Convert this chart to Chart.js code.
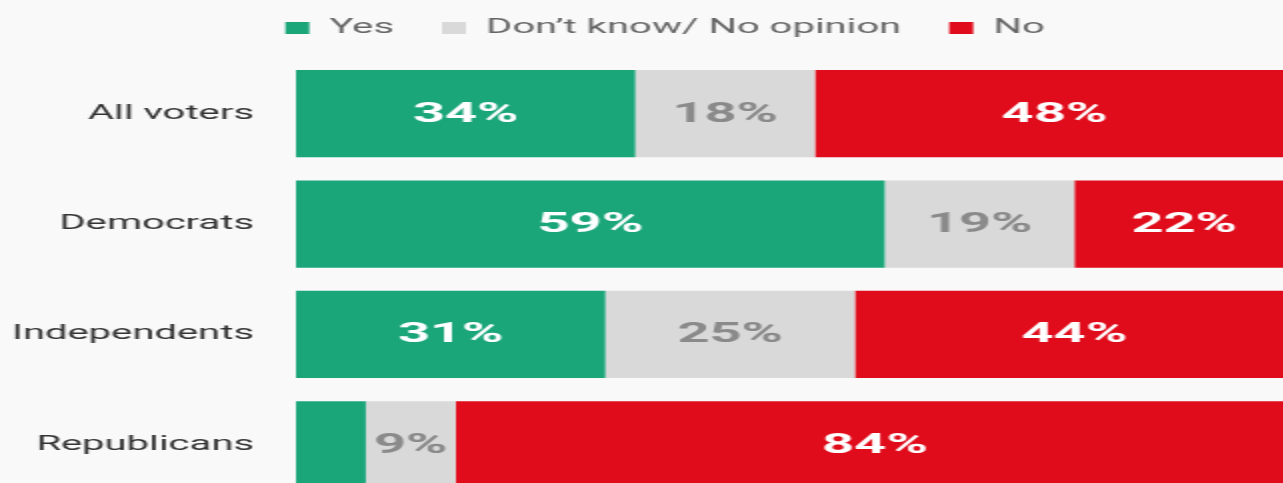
<!DOCTYPE html>
<html>
<head>
<meta charset="utf-8">
<script src="https://cdn.jsdelivr.net/npm/chart.js@4"></script>
<style>
  html, body { margin: 0; padding: 0; background: #f9f9f9; overflow: hidden; }
  /* the reference is stretched twice as wide, so draw narrow and scale */
  #wrap { width: 665px; height: 500px; transform: scaleX(2); transform-origin: 0 0; }
</style>
</head>
<body>
<div id="wrap"><canvas id="chart" width="665" height="500"></canvas></div>
<script>
const groups = ['All voters', 'Democrats', 'Independents', 'Republicans'];
const yesValues = [34, 59, 31, 7];
const dontKnowValues = [18, 19, 25, 9];
const noValues = [48, 22, 44, 84];

// percent labels drawn in the middle of each segment
const barLabels = {
  id: 'barLabels',
  beforeUpdate(chart) {
    // a bit more room under the legend
    const lg = chart.legend;
    if (lg && !lg._patched) {
      const fit = lg.fit;
      lg.fit = function () { fit.call(this); this.height += 10.5; };
      lg._patched = true;
    }
  },
  afterLayout(chart) {
    // legend row is centred a little right of the canvas centre
    chart.legend.left = 18;
  },
  afterDatasetsDraw(chart) {
    const ctx = chart.ctx;
    ctx.save();
    ctx.font = 'bold 28px Roboto';
    ctx.textAlign = 'center';
    ctx.textBaseline = 'middle';
    chart.data.datasets.forEach((ds, i) => {
      chart.getDatasetMeta(i).data.forEach((bar, j) => {
        const v = ds.data[j];
        if (v < 8) return;
        const p = bar.getProps(['x', 'y', 'base'], true);
        ctx.fillStyle = ds.labelColor;
        ctx.fillText(v + '%', (p.x + p.base) / 2, p.y + 1);
      });
    });
    ctx.restore();
  }
};

new Chart(document.getElementById('chart'), {
  type: 'bar',
  data: {
    labels: groups,
    datasets: [
      { label: 'Yes', data: yesValues, backgroundColor: '#1ba67a', labelColor: '#ffffff' },
      { label: 'Don\u2019t know/ No opinion', data: dontKnowValues, backgroundColor: '#d9d9d9', labelColor: '#8a8a8a' },
      { label: 'No', data: noValues, backgroundColor: '#e00b1b', labelColor: '#ffffff' }
    ]
  },
  options: {
    indexAxis: 'y',
    responsive: false,
    animation: false,
    datasets: { bar: { categoryPercentage: 1, barPercentage: 0.79 } },
    layout: { padding: { top: -6, left: 0, right: 18 } },
    scales: {
      x: { stacked: true, min: 0, max: 100, display: false },
      y: {
        stacked: true,
        grid: { display: false, drawTicks: false },
        border: { display: false },
        ticks: { color: '#333', padding: 21, font: { family: 'Roboto', size: 20 } },
        afterFit(scale) {
          scale.width = 148;
          scale.paddingTop = 0;
          scale.paddingBottom = 0;
        }
      }
    },
    plugins: {
      tooltip: { enabled: false },
      legend: {
        labels: {
          color: '#666',
          boxWidth: 12,
          boxHeight: 12,
          padding: 24,
          font: { family: 'Roboto', size: 20 }
        }
      }
    }
  },
  plugins: [barLabels]
});
</script>
</body>
</html>
